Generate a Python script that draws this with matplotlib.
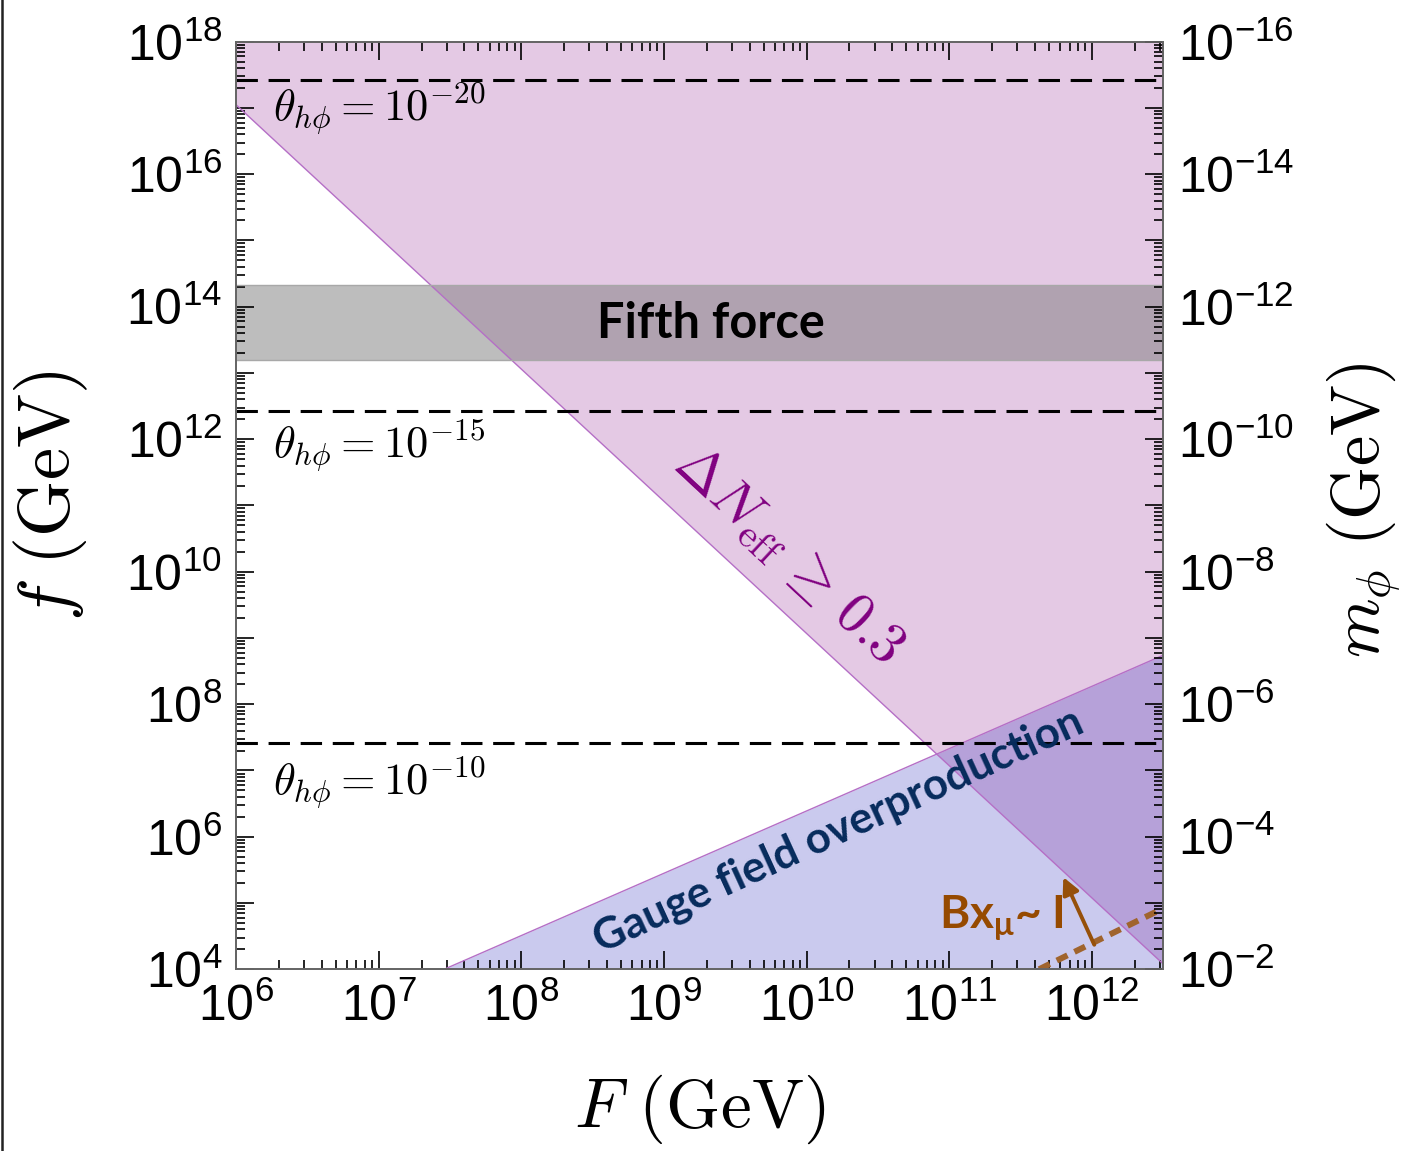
import numpy as np
import matplotlib
matplotlib.use('Agg')
import matplotlib.pyplot as plt
from matplotlib.ticker import LogLocator, FuncFormatter, NullFormatter
from matplotlib.lines import Line2D

plt.rcParams['font.family'] = ['Liberation Sans', 'DejaVu Sans']
plt.rcParams['mathtext.fontset'] = 'custom'
plt.rcParams['mathtext.rm'] = 'Lato:bold'
plt.rcParams['mathtext.it'] = 'Lato:bold'
plt.rcParams['mathtext.bf'] = 'Lato:bold'

# ---- data ----
x_lim = [1e6, 10**12.5]
y_lim = [1e4, 1e18]
mass_scale = 1e2            # m_phi = mass_scale / f
neff_F = [1e6, 10**12.5]    # Delta N_eff bound
neff_f = [10**17.05, 10**4.08]
gauge_F = [10**7.46, 10**12.5]   # gauge field overproduction
gauge_f = [1e4, 10**8.74]
fifth_lo = 10**13.19
fifth_hi = 10**14.32
theta_f = [10**17.42, 10**12.42, 10**7.42]
theta_exp = [-20, -15, -10]
theta_label_f = [10**17.0, 10**11.9, 10**6.82]
bx_F = [10**11.63, 10**12.5]
bx_f = [1e4, 10**4.92]

fig = plt.figure(figsize=(14.06, 11.51), dpi=100)
ax = fig.add_axes([0.1678, 0.1579, 0.6595, 0.8059])
ax.set_xscale('log')
ax.set_yscale('log')
ax.set_xlim(x_lim)
ax.set_ylim(y_lim)

# regions
ax.fill_between(neff_F, neff_f, y_lim[1], color=(0.5, 0, 0.5), alpha=0.21, lw=0)
ax.fill_between(gauge_F, y_lim[0], gauge_f, color=(30/255, 30/255, 182/255), alpha=0.23, lw=0)
ax.plot(neff_F, neff_f, color='#b56fc6', lw=1)
ax.plot(gauge_F, gauge_f, color='#b56fc6', lw=1)
ax.axhspan(fifth_lo, fifth_hi, color=(0.49, 0.49, 0.49), alpha=0.5, lw=0)
ax.axhline(fifth_lo, color='#a8a8a8', lw=1)
ax.axhline(fifth_hi, color='#a8a8a8', lw=1)

for fv, ev, fl in zip(theta_f, theta_exp, theta_label_f):
    ax.axhline(fv, color='black', lw=2.2, dashes=(7, 3.5))
    ax.text(10**6.257, fl, r'$\theta_{h\phi} = 10^{%d}$' % ev, fontsize=32,
            math_fontfamily='cm', ha='left', va='center')

ax.plot(bx_F, bx_f, color='#a0642d', lw=4.3, dashes=(2.0, 1.3), solid_capstyle='butt')

# labels on regions
ax.text(10**9.33, 10**13.75, 'Fifth force', fontsize=35, family='Lato',
        fontweight='bold', ha='center', va='center')
ax.text(10**9.88, 10**10.25, r'$\Delta N_{\rm eff}\,\geq\,0.3$', fontsize=41,
        math_fontfamily='cm', color='#800080', rotation=-43,
        ha='center', va='center', rotation_mode='anchor')
ax.text(10**10.22, 10**6.1, 'Gauge field overproduction', fontsize=31.5,
        family='Lato', fontweight='bold', color='#062b5c', rotation=24.6,
        ha='center', va='center', rotation_mode='anchor')
ax.text(10**10.93, 10**4.62, r'$\mathrm{Bx_{μ}}$~ I', fontsize=33, family='Lato',
        fontweight='bold', color='#964a00', ha='left', va='baseline',
        math_fontfamily='custom')
ax.annotate('', xy=(10**11.80, 10**5.39), xytext=(10**12.017, 10**4.37),
            arrowprops=dict(arrowstyle='-|>,head_length=1.0,head_width=0.5',
                            color='#96500a', lw=2.8, shrinkA=0, shrinkB=0))

# ticks
def xfmt(v, p):
    return r'$\mathregular{10^{%d}}$' % round(np.log10(v))

def yfmt(v, p):
    e = round(np.log10(v))
    return r'$\mathregular{10^{%d}}$' % e if e % 2 == 0 else ''

def mfmt(v, p):
    e = round(np.log10(v))
    if e % 2:
        return ''
    return r'$\mathregular{10^{%d}}$' % round(np.log10(mass_scale / v))

ax.xaxis.set_major_locator(LogLocator(base=10, numticks=30))
ax.xaxis.set_minor_locator(LogLocator(base=10, subs=np.arange(2, 10), numticks=200))
ax.xaxis.set_major_formatter(FuncFormatter(xfmt))
ax.xaxis.set_minor_formatter(NullFormatter())
ax.yaxis.set_major_locator(LogLocator(base=10, numticks=30))
ax.yaxis.set_minor_locator(LogLocator(base=10, subs=np.arange(2, 10), numticks=200))
ax.yaxis.set_major_formatter(FuncFormatter(yfmt))
ax.yaxis.set_minor_formatter(NullFormatter())
ax.tick_params(which='both', direction='in', top=True, right=False, width=1.2, labelsize=36)
ax.tick_params(which='major', length=13)
ax.tick_params(which='minor', length=6.5)
ax.tick_params(axis='x', pad=10)
ax.tick_params(axis='y', pad=10)

ax2 = ax.twinx()
ax2.set_yscale('log')
ax2.set_ylim(y_lim)
ax2.yaxis.set_major_locator(LogLocator(base=10, numticks=30))
ax2.yaxis.set_minor_locator(LogLocator(base=10, subs=np.arange(2, 10), numticks=200))
ax2.yaxis.set_major_formatter(FuncFormatter(mfmt))
ax2.yaxis.set_minor_formatter(NullFormatter())
ax2.tick_params(which='both', direction='in', width=1.2, labelsize=36, pad=11)
ax2.tick_params(which='major', length=13)
ax2.tick_params(which='minor', length=6.5)

for a in [ax, ax2]:
    for s in a.spines.values():
        s.set_color('#666666')
        s.set_linewidth(1.3)

ax.set_xlabel(r'$F\ (\mathrm{GeV})$', fontsize=50, math_fontfamily='cm')
ax.xaxis.set_label_coords(0.5, -0.112)
ax.set_ylabel(r'$f\ (\mathrm{GeV})$', fontsize=52, math_fontfamily='cm')
ax.yaxis.set_label_coords(-0.157, 0.51)
ax2.set_ylabel(r'$m_\phi\ (\mathrm{GeV})$', fontsize=49, math_fontfamily='cm')
ax2.yaxis.set_label_coords(1.174, 0.495)

fig.add_artist(Line2D([0.0012, 0.0012], [0, 1], color='#222222', lw=1.8))

fig.savefig('out.png', dpi=100)
